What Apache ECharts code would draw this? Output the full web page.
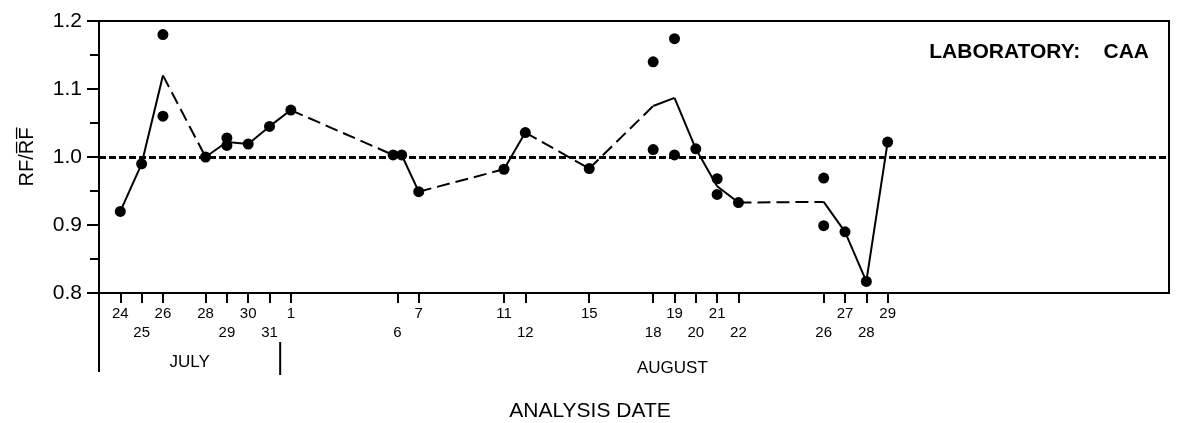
<!DOCTYPE html>
<html>
<head>
<meta charset="utf-8">
<title>RF/RF - Laboratory CAA</title>
<script src="https://cdn.jsdelivr.net/npm/echarts@6/dist/echarts.min.js"></script>
<style>
  html, body { margin: 0; padding: 0; background: #fff; }
  #chart { width: 1177px; height: 423px; }
</style>
</head>
<body>
<div id="chart"></div>
<script>
// day 0 = July 24
var tickDays = [0, 1, 2, 4, 5, 6, 7, 8, 13, 14, 18, 19, 22, 25, 26, 27, 28, 29, 33, 34, 35, 36];
var tickLabels = ['24', '25', '26', '28', '29', '30', '31', '1', '6', '7', '11', '12', '15', '18', '19', '20', '21', '22', '26', '27', '28', '29'];
var tickRow = [0, 1, 0, 0, 1, 0, 1, 0, 1, 0, 0, 1, 0, 1, 0, 1, 0, 1, 1, 0, 1, 0];

// single determinations (dots)
var pointDays = [0, 1, 2, 2, 4, 5, 5, 6, 7, 8, 12.8, 13.2, 14, 18, 19, 22, 25, 25, 26, 26, 27, 28, 28, 29, 33, 33, 34, 35, 36];
var pointValues = [0.92, 0.99, 1.18, 1.06, 1.0, 1.028, 1.017, 1.019, 1.045, 1.069, 1.003, 1.003, 0.949, 0.982, 1.036, 0.983, 1.14, 1.011, 1.174, 1.003, 1.012, 0.968, 0.945, 0.933, 0.969, 0.899, 0.89, 0.817, 1.022];

// daily mean line
var lineDays = [0, 1, 2, 4, 5, 6, 7, 8, 12.8, 13.2, 14, 18, 19, 22, 25, 26, 27, 28, 29, 33, 34, 35, 36];
var lineValues = [0.92, 0.99, 1.12, 1.0, 1.022, 1.019, 1.045, 1.069, 1.003, 1.003, 0.949, 0.982, 1.036, 0.983, 1.075, 1.087, 1.012, 0.957, 0.933, 0.934, 0.89, 0.817, 1.022];

var months = ['JULY', 'AUGUST'];
var monthCenters = [3.25, 25.9];
var monthBreak = 7.5;

var FONT = 'Liberation Sans, Arial, Helvetica, sans-serif';

// consecutive days -> solid, gaps -> dashed
var solidSegs = [], dashSegs = [];
for (var i = 0; i < lineDays.length - 1; i++) {
  var seg = { coords: [[lineDays[i], lineValues[i]], [lineDays[i + 1], lineValues[i + 1]]] };
  if (lineDays[i + 1] - lineDays[i] <= 1) solidSegs.push(seg); else dashSegs.push(seg);
}
var points = pointDays.map(function (d, k) { return [d, pointValues[k]]; });

var chart = echarts.init(document.getElementById('chart'));
var option = {
  animation: false,
  textStyle: { fontFamily: FONT, color: '#000' },
  grid: {
    left: 99, right: 8, top: 21, bottom: 130,
    show: true, borderColor: '#000', borderWidth: 2
  },
  xAxis: {
    type: 'value',
    min: -1,
    max: 49.2,
    splitLine: { show: false },
    axisLine: { onZero: false, lineStyle: { color: '#000', width: 2 } },
    axisTick: { customValues: tickDays, length: 10, lineStyle: { color: '#000', width: 2 } },
    axisLabel: {
      customValues: tickDays,
      fontSize: 15,
      lineHeight: 19,
      color: '#000',
      margin: 11,
      formatter: function (v) {
        var k = tickDays.indexOf(v);
        if (k < 0) return '';
        return tickRow[k] ? '\n' + tickLabels[k] : tickLabels[k];
      }
    }
  },
  yAxis: {
    type: 'value',
    min: 0.8,
    max: 1.2,
    interval: 0.1,
    name: 'RF/R\u0305F\u0305',
    nameLocation: 'middle',
    nameRotate: 90,
    nameGap: 62,
    nameTextStyle: { fontSize: 20, color: '#000' },
    splitLine: { show: false },
    axisLine: { show: true, onZero: false, lineStyle: { color: '#000', width: 2 } },
    axisTick: { length: 12, lineStyle: { color: '#000', width: 2 } },
    minorTick: { show: true, splitNumber: 2, length: 9, lineStyle: { color: '#000', width: 2 } },
    axisLabel: {
      fontSize: 21,
      color: '#000',
      margin: 17,
      formatter: function (v) { return v.toFixed(1); }
    }
  },
  series: [
    {
      type: 'lines',
      coordinateSystem: 'cartesian2d',
      data: solidSegs,
      symbol: 'none',
      lineStyle: { color: '#000', width: 2, type: 'solid', opacity: 1 },
      z: 2
    },
    {
      type: 'lines',
      coordinateSystem: 'cartesian2d',
      data: dashSegs,
      symbol: 'none',
      lineStyle: { color: '#000', width: 2, type: [13, 6], opacity: 1 },
      z: 2
    },
    {
      type: 'scatter',
      data: points,
      symbol: 'circle',
      symbolSize: 11,
      itemStyle: { color: '#000', opacity: 1 },
      z: 3,
      markLine: {
        silent: true,
        symbol: ['none', 'none'],
        label: { show: false },
        lineStyle: { color: '#000', width: 3, type: [7, 3], opacity: 1 },
        data: [{ yAxis: 1.0 }]
      }
    }
  ]
};
chart.setOption(option);

// month brackets and labels under the axis
var base = chart.convertToPixel({ gridIndex: 0 }, [-1, 0.8]);
var brk = chart.convertToPixel({ xAxisIndex: 0 }, monthBreak);
var graphics = [
  { type: 'line', shape: { x1: base[0], y1: base[1], x2: base[0], y2: base[1] + 79 }, style: { stroke: '#000', lineWidth: 2 } },
  { type: 'line', shape: { x1: brk, y1: base[1] + 49, x2: brk, y2: base[1] + 82 }, style: { stroke: '#000', lineWidth: 2 } },
  {
    type: 'text',
    style: { text: 'LABORATORY:    CAA', x: 1149, y: 52, align: 'right', verticalAlign: 'middle', font: 'bold 21px ' + FONT, fill: '#000' }
  },
  {
    type: 'text',
    style: { text: 'ANALYSIS DATE', x: 590, y: 411, align: 'center', verticalAlign: 'middle', font: '21px ' + FONT, fill: '#000' }
  }
];
var monthY = [362, 368];
months.forEach(function (m, k) {
  graphics.push({
    type: 'text',
    style: {
      text: m,
      x: chart.convertToPixel({ xAxisIndex: 0 }, monthCenters[k]),
      y: monthY[k],
      align: 'center', verticalAlign: 'middle',
      font: '17px ' + FONT, fill: '#000'
    }
  });
});
chart.setOption({ graphic: graphics });
</script>
</body>
</html>
